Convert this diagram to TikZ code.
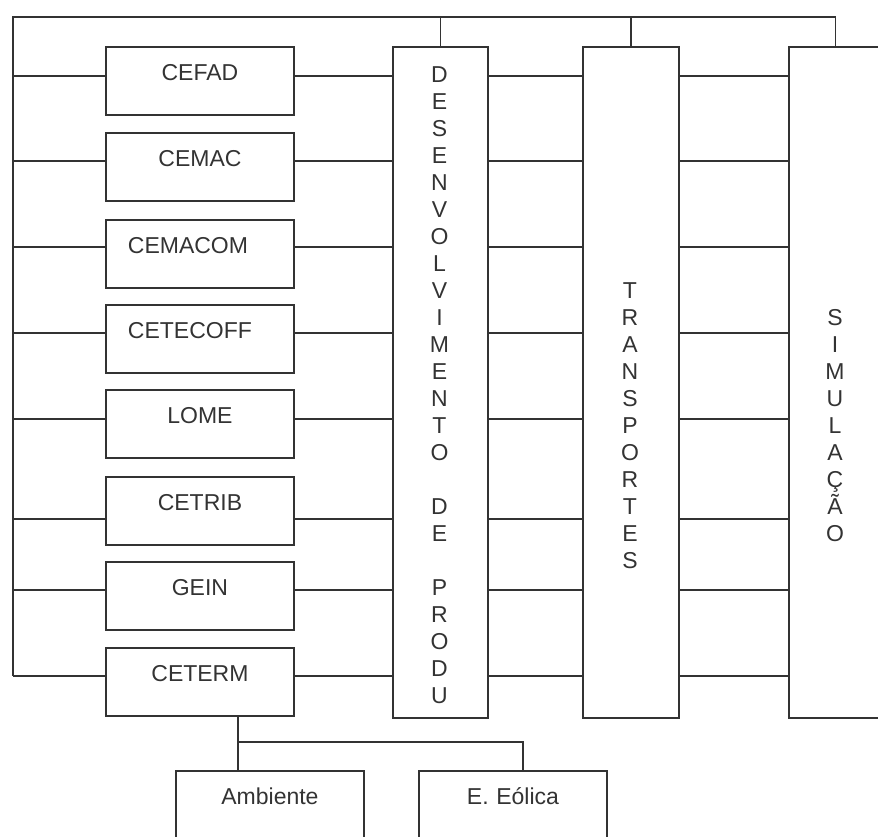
\documentclass[tikz,border=0pt]{standalone}
\usepackage{fontspec}
\setmainfont{Liberation Sans}
\definecolor{ink}{gray}{0.2}
\tikzset{
  unitbox/.style={draw=ink, line width=1.9pt, anchor=north west, inner sep=0pt,
    text width=188pt, align=center, text height=33.5pt, text depth=34.5pt,
    font=\fontsize{23}{27}\selectfont, text=ink},
  colbox/.style={draw=ink, line width=1.9pt, anchor=north west, inner sep=0pt,
    minimum height=671pt},
  vtext/.style={align=center, inner sep=0pt, font=\fontsize{23}{27}\selectfont, text=ink},
  wire/.style={draw=ink, line width=1.9pt}
}
\begin{document}
\begin{tikzpicture}[x=1pt,y=-1pt]
\useasboundingbox (0,0) rectangle (878,837);
% left units
\node[unitbox] (cefad)    at (105,46)  {CEFAD};
\node[unitbox] (cemac)    at (105,132) {CEMAC};
\node[unitbox] (cemacom)  at (105,219) {\hspace*{-24pt}CEMACOM};
\node[unitbox] (cetecoff) at (105,304) {\hspace*{-20pt}CETECOFF};
\node[unitbox] (lome)     at (105,389) {LOME};
\node[unitbox] (cetrib)   at (105,476) {CETRIB};
\node[unitbox] (gein)     at (105,561) {GEIN};
\node[unitbox] (ceterm)   at (105,647) {CETERM};
% columns
\node[colbox, minimum width=95pt] (dev)   at (392,46) {};
\node[vtext] (devtxt) at (439.5,385) {D\\E\\S\\E\\N\\V\\O\\L\\V\\I\\M\\E\\N\\T\\O\\[27pt]D\\E\\[27pt]P\\R\\O\\D\\U};
\node[colbox, minimum width=96pt] (trans) at (582,46) {};
\node[vtext] (transtxt) at (630,426) {T\\R\\A\\N\\S\\P\\O\\R\\T\\E\\S};
\node[colbox, minimum width=93pt] (sim)   at (788,46) {};
\node[vtext] (simtxt) at (835,426) {S\\I\\M\\U\\L\\A\\Ç\\Ã\\O};
% bottom units
\node[unitbox, text depth=50pt] (amb) at (175,770) {Ambiente};
\node[unitbox, text depth=50pt] (eol) at (418,770) {E. Eólica};
% bus coordinates
\coordinate (tl) at (13,17);
\coordinate (r1) at (13,76);
\coordinate (r2) at (13,161);
\coordinate (r3) at (13,247);
\coordinate (r4) at (13,333);
\coordinate (r5) at (13,419);
\coordinate (r6) at (13,519);
\coordinate (r7) at (13,590);
\coordinate (r8) at (13,676);
% top bus
\draw[wire] (r8) -- (tl) -| (sim.north);
\draw[wire] (dev.north |- tl) -- (dev.north);
\draw[wire] (trans.north |- tl) -- (trans.north);
% rows
\foreach \r/\b in {r1/cefad, r2/cemac, r3/cemacom, r4/cetecoff, r5/lome, r6/cetrib, r7/gein, r8/ceterm} {
  \draw[wire] (\r) -- (\r -| \b.west);
  \draw[wire] (\r -| \b.east) -- (\r -| dev.west);
  \draw[wire] (\r -| dev.east) -- (\r -| trans.west);
  \draw[wire] (\r -| trans.east) -- (\r -| sim.west);
}
% bottom branch
\coordinate (j1) at (238,742);
\coordinate (j2) at (523,742);
\draw[wire] (j1 |- ceterm.south) -- (j1 |- amb.north);
\draw[wire] (j1) -- (j2) -- (j2 |- eol.north);
\end{tikzpicture}
\end{document}
